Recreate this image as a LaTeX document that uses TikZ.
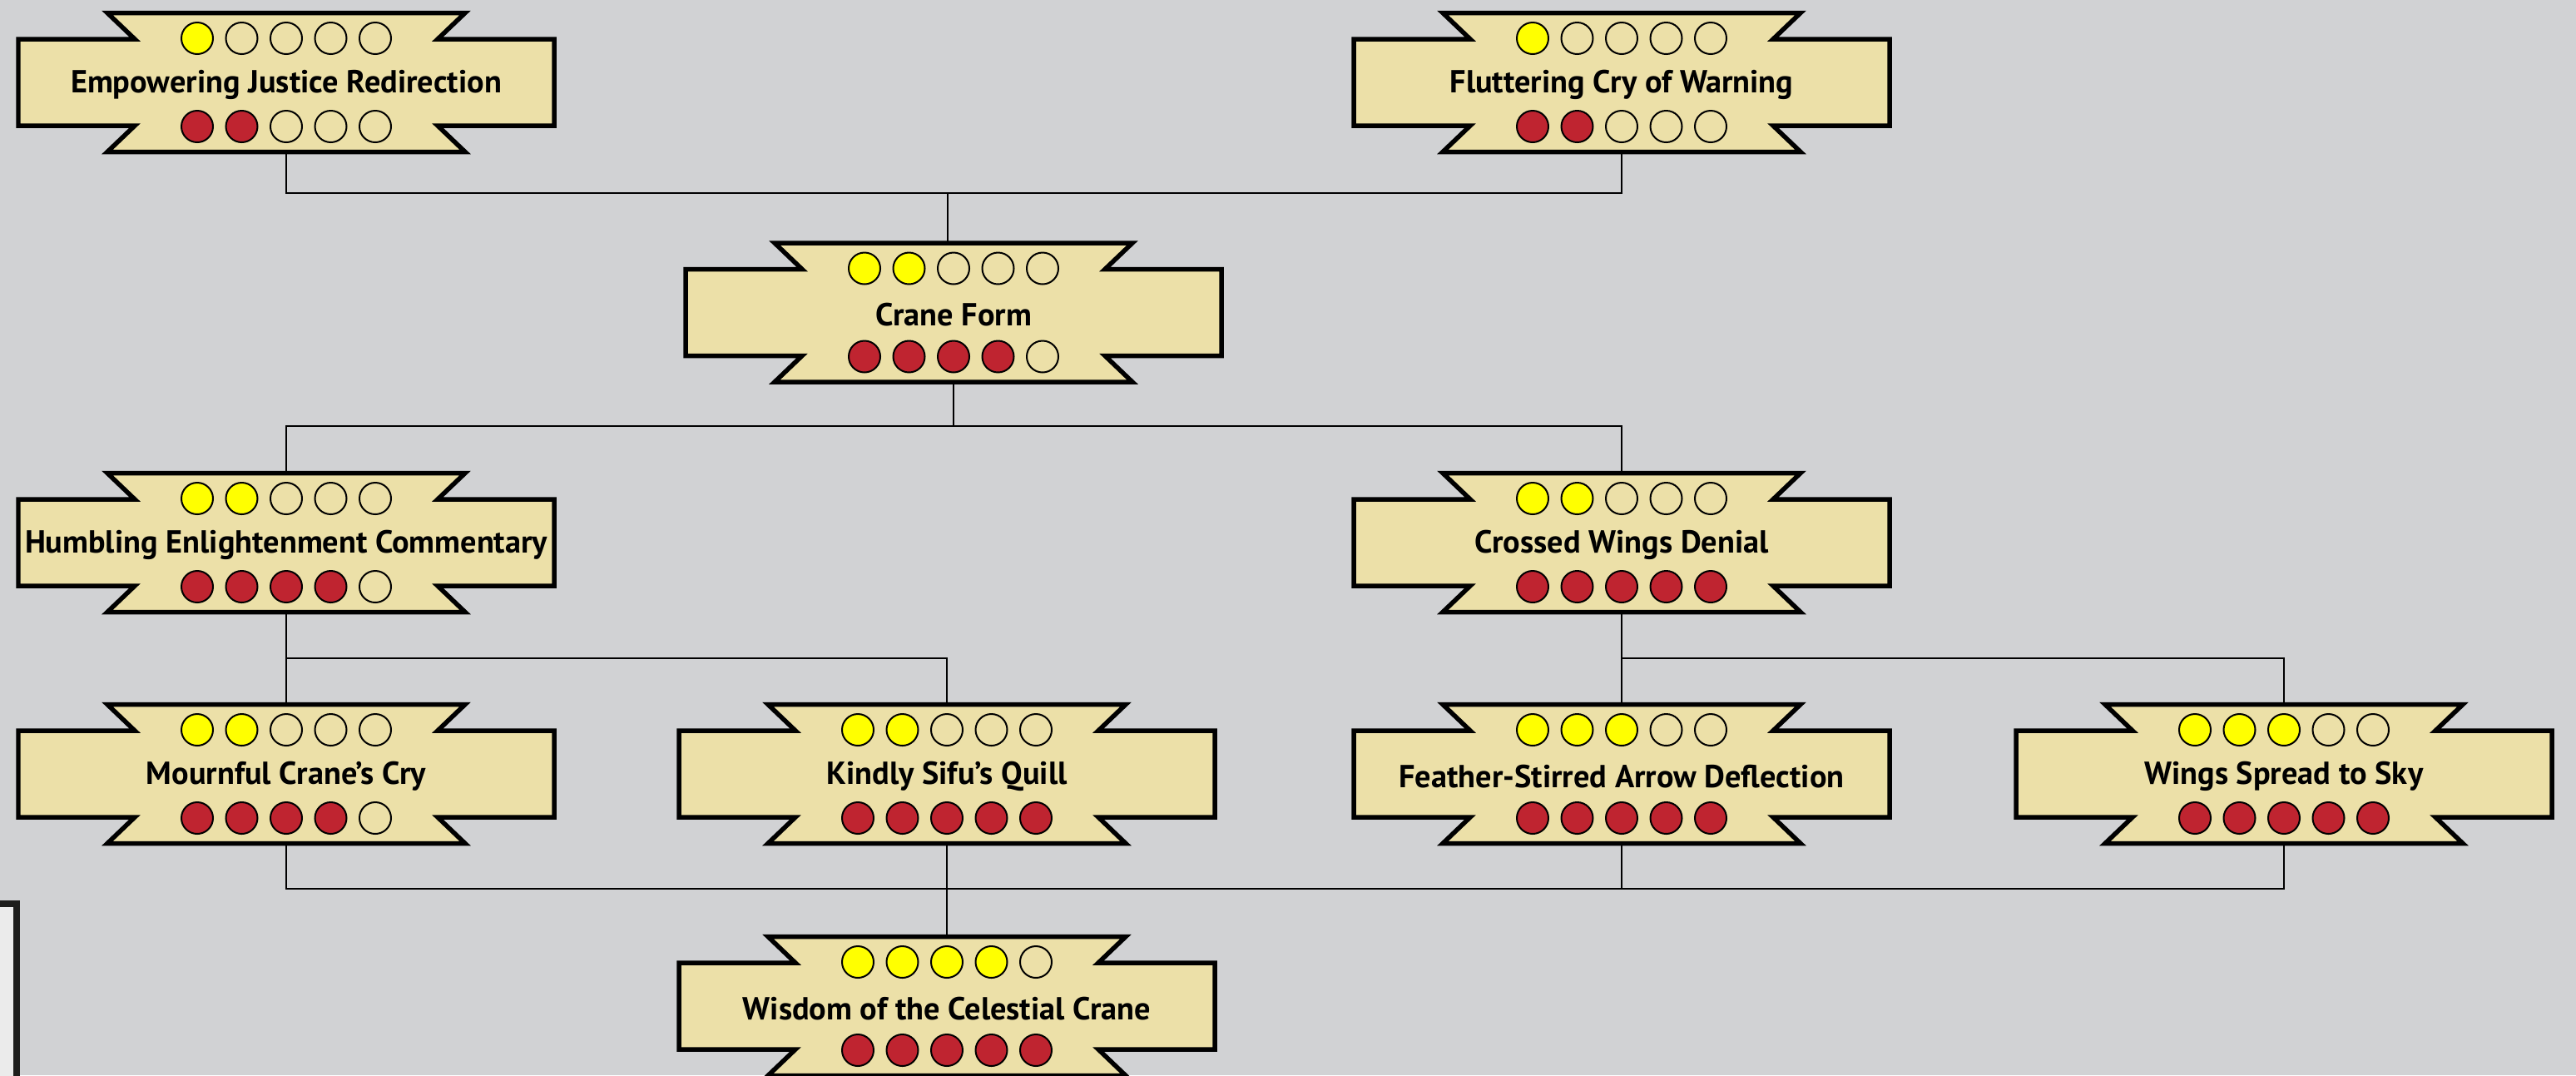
\documentclass[tikz,border=0pt]{standalone}
\usepackage{fontspec}
\setmainfont{PT Sans}
\usetikzlibrary{positioning}

\definecolor{backdrop}{HTML}{D1D2D4}
\definecolor{bannerfill}{HTML}{ECE0A8}
\definecolor{dotyellow}{HTML}{FFFF00}
\definecolor{dotred}{HTML}{BF2430}
\definecolor{framedark}{HTML}{1D1D1B}
\definecolor{panel}{HTML}{EBEBEB}

% name, position, label, yellow dots, red dots
\newcommand{\skill}[5]{%
  \begin{scope}[shift={(#2)}]
    \draw [banner] (-2.15,0.835) -- (2.15,0.835) -- (1.82,0.52) -- (3.22,0.52) -- (3.22,-0.52) -- (1.82,-0.52) -- (2.15,-0.835) -- (-2.15,-0.835) -- (-1.82,-0.52) -- (-3.22,-0.52) -- (-3.22,0.52) -- (-1.82,0.52) -- cycle;
    \foreach \i in {1,...,5} {
      \ifnum\i>#4\relax\def\topcol{bannerfill}\else\def\topcol{dotyellow}\fi
      \ifnum\i>#5\relax\def\botcol{bannerfill}\else\def\botcol{dotred}\fi
      \draw [dot, fill=\topcol] (\i*0.535-1.605,0.53) circle (0.19);
      \draw [dot, fill=\botcol] (\i*0.535-1.605,-0.53) circle (0.19);
    }
    \node [skillbox] (#1) at (0,0) {};
    \node [skilltext] at (0,-0.03) {#3};
  \end{scope}}

\begin{document}
\begin{tikzpicture}[
  banner/.style={draw=black, fill=bannerfill, line width=0.055cm, line join=miter},
  dot/.style={draw=black, line width=0.02cm},
  skillbox/.style={inner sep=0pt, minimum width=6.44cm, minimum height=1.67cm},
  skilltext/.style={inner sep=0pt, font=\fontsize{10.9}{12}\selectfont\bfseries},
  link/.style={draw=black, line width=0.025cm}
]
\useasboundingbox (0,0) rectangle (30.96,-12.92);
\clip (0,0) rectangle (30.96,-12.92);
\fill [backdrop] (0,0) rectangle (30.96,-12.92);

% panel edge at the lower left
\filldraw [fill=panel, draw=framedark, line width=0.08cm] (-0.5,-10.86) rectangle (0.20,-13.5);

% bus levels
\coordinate (busA) at (0,-2.32);
\coordinate (busB) at (0,-5.12);
\coordinate (busC) at (0,-7.91);
\coordinate (busD) at (0,-10.68);

\skill{emp}{3.44,-0.99}{Empowering Justice Redirection}{1}{2}
\skill{flut}{19.49,-0.99}{Fluttering Cry of Warning}{1}{2}
\skill{crane}{11.46,-3.755}{Crane Form}{2}{4}
\skill{humb}{3.44,-6.52}{Humbling Enlightenment Commentary}{2}{4}
\skill{cross}{19.49,-6.52}{Crossed Wings Denial}{2}{5}
\skill{mourn}{3.44,-9.30}{Mournful Crane's Cry}{2}{4}
\skill{kindly}{11.38,-9.30}{Kindly Sifu's Quill}{2}{5}
\skill{feather}{19.49,-9.30}{Feather-Stirred Arrow Deflection}{3}{5}
\skill{wings}{27.45,-9.30}{Wings Spread to Sky}{3}{5}
\skill{wisdom}{11.38,-12.09}{Wisdom of the Celestial Crane}{4}{5}

% connectors
\draw [link] (emp.south) |- (flut.south |- busA) -- (flut.south);
\draw [link] ([xshift=-0.07cm]crane.north) -- ([xshift=-0.07cm]crane.north |- busA);
\draw [link] (humb.north) |- (cross.north |- busB) -- (cross.north);
\draw [link] (crane.south) -- (crane.south |- busB);
\draw [link] (mourn.north) |- (kindly.north |- busC) -- (kindly.north);
\draw [link] (humb.south) -- (humb.south |- busC);
\draw [link] (feather.north) |- (wings.north |- busC) -- (wings.north);
\draw [link] (cross.south) -- (cross.south |- busC);
\draw [link] (mourn.south) |- (wings.south |- busD) -- (wings.south);
\draw [link] (kindly.south) -- (wisdom.north);
\draw [link] (feather.south) -- (feather.south |- busD);
\end{tikzpicture}
\end{document}
